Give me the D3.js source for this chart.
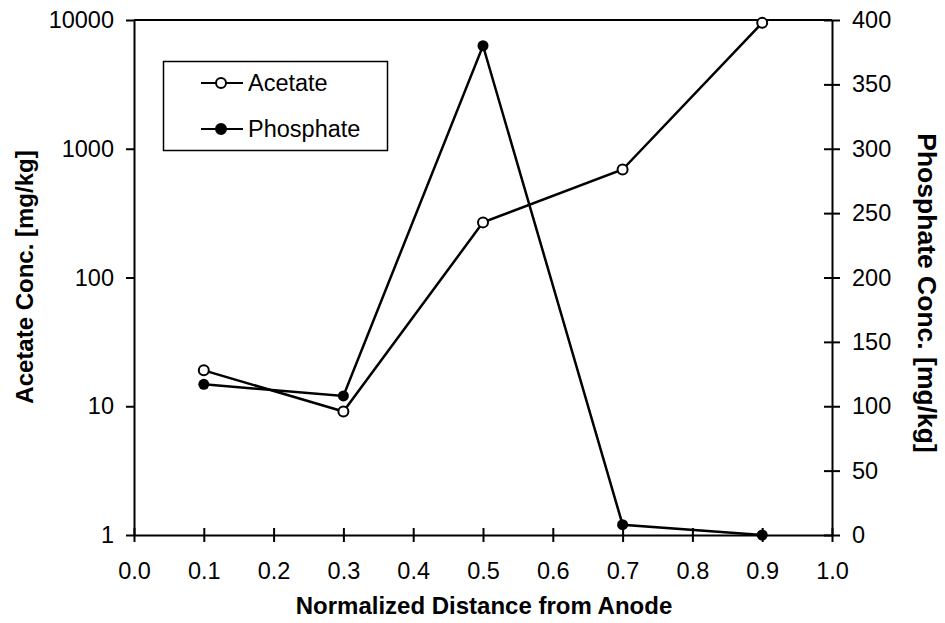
<!DOCTYPE html>
<html>
<head>
<meta charset="utf-8">
<script src="https://cdn.jsdelivr.net/npm/d3@7"></script>
<style>
  body { margin: 0; background: #fff; }
  svg { font-family: "Liberation Sans", Arial, sans-serif; }
  .axis path, .axis line { stroke: #000; stroke-width: 2; }
  .axis text { font-size: 23.5px; fill: #000; }
</style>
</head>
<body>
<svg width="945" height="623"></svg>
<script>
const DISTANCE = [0.1, 0.3, 0.5, 0.7, 0.9];
const ACETATE = [19, 9.1, 268, 690, 9500];
const PHOSPHATE = [117, 108, 380, 8, 0];

const X_TICKS = [0, 0.1, 0.2, 0.3, 0.4, 0.5, 0.6, 0.7, 0.8, 0.9, 1.0];
const ACETATE_TICKS = [1, 10, 100, 1000, 10000];
const PHOSPHATE_TICKS = [0, 50, 100, 150, 200, 250, 300, 350, 400];

const plotLeft = 134, plotRight = 832, plotTop = 20, plotBottom = 535;

let svg = d3.select('svg');

let x = d3.scaleLinear().domain([0, 1]).range([plotLeft, plotRight]);
let yLog = d3.scaleLog().domain([1, 10000]).range([plotBottom, plotTop]);
let yLin = d3.scaleLinear().domain([0, 400]).range([plotBottom, plotTop]);

// frame top line
svg.append('line')
  .attr('x1', plotLeft).attr('x2', plotRight)
  .attr('y1', plotTop).attr('y2', plotTop)
  .attr('stroke', '#000').attr('stroke-width', 2);

// x axis, ticks crossing the line
let gx = svg.append('g').attr('class', 'axis')
  .attr('transform', `translate(0,${plotBottom})`)
  .call(d3.axisBottom(x).tickValues(X_TICKS).tickFormat(d3.format('.1f'))
    .tickSize(7).tickPadding(20).tickSizeOuter(0));
gx.selectAll('.tick line').attr('y1', -7);

let gl = svg.append('g').attr('class', 'axis')
  .attr('transform', `translate(${plotLeft},0)`)
  .call(d3.axisLeft(yLog).tickValues(ACETATE_TICKS).tickFormat(d3.format('d'))
    .tickSize(8).tickPadding(12).tickSizeOuter(0));
gl.selectAll('.tick line').attr('x1', 0);

let gr = svg.append('g').attr('class', 'axis')
  .attr('transform', `translate(${plotRight},0)`)
  .call(d3.axisRight(yLin).tickValues(PHOSPHATE_TICKS)
    .tickSize(8).tickPadding(12).tickSizeOuter(0));
gr.selectAll('.tick line').attr('x1', -8);

// axis titles
svg.append('text')
  .attr('x', 484).attr('y', 614)
  .attr('text-anchor', 'middle')
  .attr('font-size', 24).attr('font-weight', 'bold')
  .text('Normalized Distance from Anode');

svg.append('text')
  .attr('transform', 'translate(33,277) rotate(-90)')
  .attr('text-anchor', 'middle')
  .attr('font-size', 24).attr('font-weight', 'bold')
  .text('Acetate Conc. [mg/kg]');

svg.append('text')
  .attr('transform', 'translate(918,293) rotate(90)')
  .attr('text-anchor', 'middle')
  .attr('font-size', 26.5).attr('font-weight', 'bold')
  .text('Phosphate Conc. [mg/kg]');

// series
let acetateData = DISTANCE.map((d, i) => ({x: d, y: ACETATE[i]}));
let phosphateData = DISTANCE.map((d, i) => ({x: d, y: PHOSPHATE[i]}));

svg.append('path')
  .datum(phosphateData)
  .attr('fill', 'none').attr('stroke', '#000').attr('stroke-width', 2.5)
  .attr('d', d3.line().x(d => x(d.x)).y(d => yLin(d.y)));

svg.append('path')
  .datum(acetateData)
  .attr('fill', 'none').attr('stroke', '#000').attr('stroke-width', 2.5)
  .attr('d', d3.line().x(d => x(d.x)).y(d => yLog(d.y)));

svg.append('g').selectAll('circle')
  .data(phosphateData).enter().append('circle')
  .attr('cx', d => x(d.x)).attr('cy', d => yLin(d.y))
  .attr('r', 5.5).attr('fill', '#000');

svg.append('g').selectAll('circle')
  .data(acetateData).enter().append('circle')
  .attr('cx', d => x(d.x)).attr('cy', d => yLog(d.y))
  .attr('r', 5).attr('fill', '#fff').attr('stroke', '#000').attr('stroke-width', 2);

// legend
let legend = svg.append('g');
legend.append('rect')
  .attr('x', 163.5).attr('y', 61.5).attr('width', 224).attr('height', 89)
  .attr('fill', '#fff').attr('stroke', '#000').attr('stroke-width', 1.5);

let items = [
  {name: 'Acetate', fill: '#fff', y: 83},
  {name: 'Phosphate', fill: '#000', y: 129}
];
items.forEach(it => {
  legend.append('line')
    .attr('x1', 201).attr('x2', 243).attr('y1', it.y).attr('y2', it.y)
    .attr('stroke', '#000').attr('stroke-width', 2);
  legend.append('circle')
    .attr('cx', 221).attr('cy', it.y).attr('r', 5)
    .attr('fill', it.fill).attr('stroke', '#000').attr('stroke-width', 2);
  legend.append('text')
    .attr('x', 248).attr('y', it.y).attr('dy', '0.36em')
    .attr('font-size', 23.5)
    .text(it.name);
});
</script>
</body>
</html>
